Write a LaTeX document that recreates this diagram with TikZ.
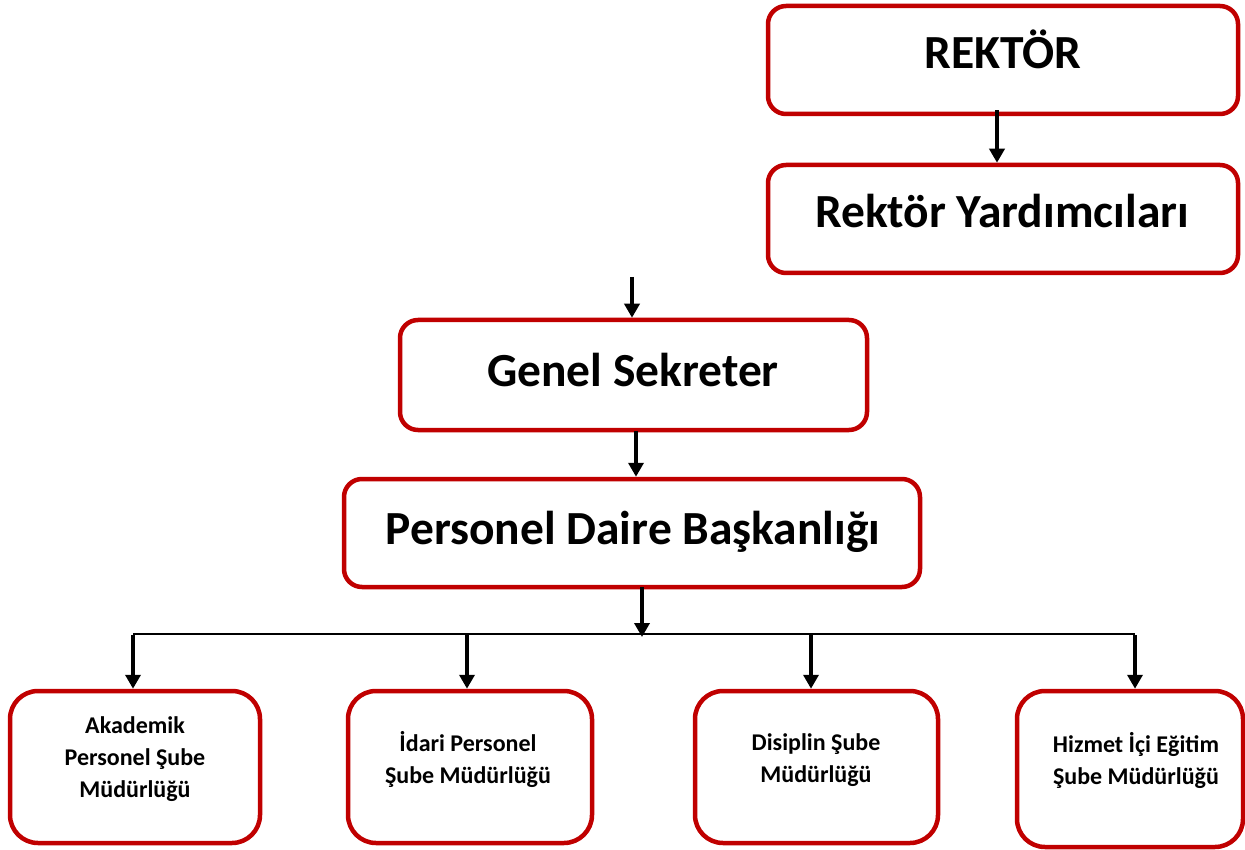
\documentclass[tikz,border=0pt]{standalone}
\usepackage{fontspec}
\setmainfont{Carlito}
\usetikzlibrary{arrows.meta}
\definecolor{boxred}{HTML}{C00000}
\tikzset{
  orgbox/.style={draw=boxred, line width=4.5pt, rectangle, rounded corners=18pt, inner sep=0pt, fill=white},
  subbox/.style={orgbox, rounded corners=28pt},
  bigtext/.style={font=\bfseries\fontsize{47.5}{56}\selectfont, inner sep=0pt, anchor=base},
  smalltext/.style={font=\bfseries\fontsize{24}{32}\selectfont, inner sep=0pt, align=center},
  arr/.style={line width=4pt, -{Triangle[width=15pt,length=14pt]}},
  branch/.style={line width=2.5pt}
}
\begin{document}
\begin{tikzpicture}[x=1pt,y=-1pt]
\useasboundingbox (0,0) rectangle (1245,850);
% boxes
\node[orgbox, minimum width=470pt, minimum height=108pt] (rk) at (1003,60) {};
\node[orgbox, minimum width=470pt, minimum height=108pt] (ry) at (1003,219) {};
\node[orgbox, minimum width=467pt, minimum height=110pt] (gs) at (633.5,375) {};
\node[orgbox, minimum width=576pt, minimum height=108pt] (pdb) at (632,533) {};
\node[subbox, minimum width=250pt, minimum height=152pt] (b1) at (135,767) {};
\node[subbox, minimum width=244pt, minimum height=152pt] (b2) at (470,767) {};
\node[subbox, minimum width=243pt, minimum height=152pt] (b3) at (816.5,767) {};
\node[subbox, minimum width=226pt, minimum height=156pt] (b4) at (1130,769) {};
% texts
\node[bigtext] (trk) at (1003,69) {REKTÖR};
\node[bigtext] (try) at (1002,228) {Rektör Yardımcıları};
\node[bigtext] (tgs) at (633,386) {Genel Sekreter};
\node[bigtext] (tpdb) at (633,544) {Personel Daire Başkanlığı};
\node[smalltext] (tb1) at (135,759) {Akademik\\Personel Şube\\Müdürlüğü};
\node[smalltext] (tb2) at (468,759) {İdari Personel\\Şube Müdürlüğü};
\node[smalltext] (tb3) at (816,760) {Disiplin Şube\\Müdürlüğü};
\node[smalltext] (tb4) at (1136,760) {Hizmet İçi Eğitim\\Şube Müdürlüğü};
% connectors
\coordinate (gsin) at (632,277);
\coordinate (bar) at (642,634);
\coordinate (barL) at (133,634);
\coordinate (barR) at (1135,634);
\draw[arr] ([xshift=-6pt,yshift=6pt]rk.south) -- ([xshift=-6pt]ry.north);
\draw[arr] (gsin) -- (gsin |- gs.north);
\draw[arr] ([xshift=2.5pt,yshift=1pt]gs.south) -- ([xshift=2.5pt]gs.south |- pdb.north);
\draw[arr] ([xshift=10pt,yshift=2pt]pdb.south) -- ([yshift=-3pt]bar);
\draw[branch] (barL) -- (barR);
\draw[arr] ([yshift=-1pt]barL) -- (barL |- b1.north);
\draw[arr] ([yshift=-1pt]barL -| 467,0) -- (467,0 |- b2.north);
\draw[arr] ([yshift=-1pt]barL -| 811,0) -- (811,0 |- b3.north);
\draw[arr] ([yshift=-1pt]barR) -- (barR |- b4.north);
\end{tikzpicture}
\end{document}
